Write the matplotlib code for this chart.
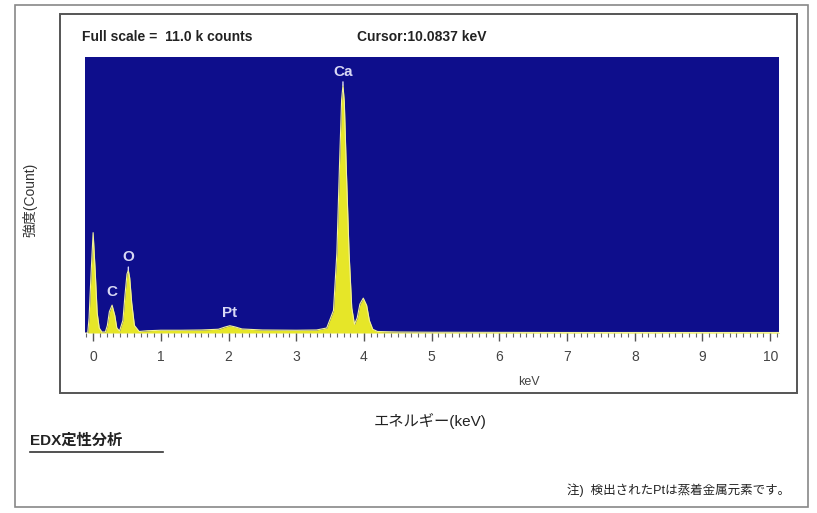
import matplotlib.pyplot as plt
import matplotlib.patches as mpatches
from matplotlib.lines import Line2D
from matplotlib.ticker import MultipleLocator

plt.rcParams['font.family'] = ['Liberation Sans', 'Noto Sans CJK JP', 'DejaVu Sans']

# spectrum outline (keV, counts)
energy = [-0.12, -0.08, -0.06, -0.03, 0.0, 0.03, 0.06, 0.09, 0.13, 0.18,
          0.21, 0.24, 0.28, 0.32, 0.35, 0.39, 0.44, 0.47, 0.50, 0.52,
          0.54, 0.57, 0.61, 0.68, 0.80, 1.00, 1.30, 1.60, 1.85, 1.95,
          2.02, 2.10, 2.20, 2.50, 3.00, 3.30, 3.45, 3.55, 3.60, 3.64,
          3.67, 3.69, 3.71, 3.74, 3.78, 3.82, 3.86, 3.90, 3.94, 3.99,
          4.04, 4.08, 4.13, 4.20, 4.50, 5.00, 6.00, 7.00, 8.00, 9.00,
          10.00, 10.15]
counts = [0, 0, 600, 2400, 4000, 2500, 800, 200, 40, 40,
          300, 850, 1110, 700, 200, 80, 500, 1500, 2350, 2500,
          2200, 1200, 300, 60, 90, 110, 110, 120, 150, 240,
          290, 240, 160, 120, 110, 120, 200, 900, 3200, 6800,
          9300, 9880, 9200, 6500, 3200, 1000, 350, 600, 1150, 1390,
          1100, 500, 150, 60, 40, 30, 25, 20, 20, 20,
          20, 20]

peak_names = ['C', 'O', 'Pt', 'Ca']
peak_energy = [0.28, 0.52, 2.02, 3.69]
peak_counts = [1110, 2500, 290, 9880]

full_scale = 11000
x_ticks = list(range(0, 11))

fig = plt.figure(figsize=(8.17, 5.13), dpi=100)

# scanned frames
fig.patches.append(mpatches.Rectangle((15 / 817, 1 - 507 / 513), 793 / 817, 502 / 513,
                                      transform=fig.transFigure, fill=False,
                                      edgecolor='#888888', lw=1.2))
fig.patches.append(mpatches.Rectangle((60 / 817, 1 - 393 / 513), 737 / 817, 379 / 513,
                                      transform=fig.transFigure, fill=False,
                                      edgecolor='#555555', lw=1.4))

ax = fig.add_axes([85 / 817, 1 - 333 / 513, 694 / 817, 276 / 513])
ax.set_facecolor('#0e0e8c')
ax.fill_between(energy, counts, 0, color='#e6e628', lw=0)
ax.plot(energy, counts, color='#f2f29a', lw=0.8)

ax.set_xlim(-0.12, 10.13)
ax.set_ylim(0, full_scale)
ax.set_yticks([])
ax.set_xticks(x_ticks)
ax.xaxis.set_minor_locator(MultipleLocator(0.1))
ax.tick_params(axis='x', which='major', length=6, width=1, color='#555555',
               labelsize=10, labelcolor='#444444', pad=6)
ax.tick_params(axis='x', which='minor', length=3, width=0.8, color='#666666')
for s in ax.spines.values():
    s.set_visible(False)
ax.set_xlabel('keV', fontsize=9, color='#444444', labelpad=6)
ax.xaxis.set_label_coords(0.64, -0.155)

for name, e, c in zip(peak_names, peak_energy, peak_counts):
    ax.annotate(name, xy=(e, c), xytext=(0, 13), textcoords='offset pixels',
                ha='center', va='center',
                fontsize=11, fontweight='bold', color='#d8d8f4',
                arrowprops=dict(arrowstyle='-', color='#d8d8f4', lw=1,
                                shrinkA=0, shrinkB=0) if name in ('Ca', 'O') else None)

fig.text(82 / 817, 1 - 37 / 513, 'Full scale =  11.0 k counts', fontsize=10,
         fontweight='bold', color='#222222', va='center')
fig.text(357 / 817, 1 - 37 / 513, 'Cursor:10.0837 keV', fontsize=10,
         fontweight='bold', color='#222222', va='center')

fig.text(30 / 817, 1 - 200 / 513, '強度(Count)', rotation=90, fontsize=10,
         color='#333333', ha='center', va='center')
fig.text(430 / 817, 1 - 421 / 513, 'エネルギー(keV)', fontsize=11,
         color='#222222', ha='center', va='center')

fig.text(30 / 817, 1 - 441 / 513, 'EDX定性分析', fontsize=11, fontweight='bold',
         color='#222222', va='center')
fig.lines.append(Line2D([30 / 817, 163 / 817], [1 - 452 / 513, 1 - 452 / 513],
                        transform=fig.transFigure, color='#333333', lw=1.2))
fig.text(790 / 817, 1 - 490 / 513, '注)  検出されたPtは蒸着金属元素です。', fontsize=9,
         color='#222222', ha='right', va='center')

fig.savefig('out.png', dpi=100)
